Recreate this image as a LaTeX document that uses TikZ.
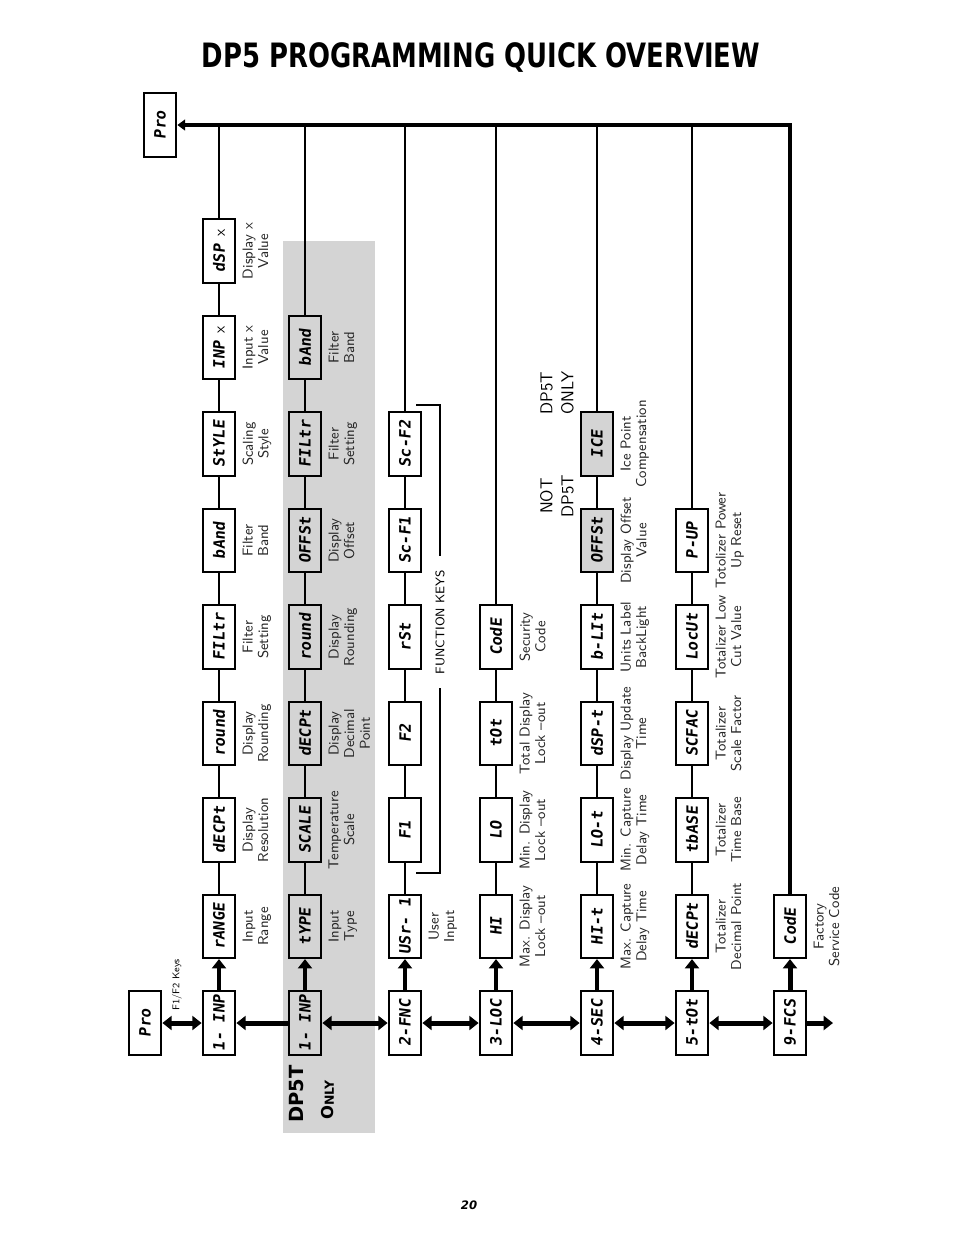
\documentclass[tikz,border=0pt]{standalone}
\usepackage{fontspec}
\usetikzlibrary{arrows.meta,positioning}
\newfontfamily\segfont{DejaVu Sans Mono}[FakeSlant=0.12]
\newfontfamily\headfont{DejaVu Sans}
\definecolor{panelgrey}{RGB}{212,212,212}
\newcommand{\seg}[1]{\rotatebox{90}{\segfont\bfseries\fontsize{10}{12}\selectfont #1}}
\tikzstyle{dispbox}=[draw,line width=1.3pt,fill=white,minimum width=21pt,minimum height=40.5pt,inner sep=0pt]
\tikzstyle{greybox}=[dispbox,fill=panelgrey]
\tikzstyle{lbl}=[rotate=90,anchor=north,align=center,inner sep=0pt,text=black!85,font=\sffamily\fontsize{9.2}{10}\selectfont]
\tikzstyle{link}=[draw,line width=1.6pt]
\tikzstyle{bigarrow}=[draw,line width=3.2pt,-{Triangle[length=6pt,width=9pt]}]
\tikzstyle{chain}=[draw,line width=3.2pt,{Triangle[length=6pt,width=9pt]}-{Triangle[length=6pt,width=9pt]}]
\tikzstyle{mainline}=[draw,line width=2.6pt,-{Triangle[length=5pt,width=7pt]}]
\tikzstyle{bracket}=[draw,line width=0.8pt]

\begin{document}
\begin{tikzpicture}[x=0.6415pt,y=-0.6415pt]

   \useasboundingbox[fill=white] (0,0) rectangle (954,1235);
   \def\dy{96.5}

% Title
   \node[font=\headfont\bfseries\fontsize{20.5}{24}\selectfont] (title) at (481,57) {\scalebox{0.81}[1.05]{DP5 PROGRAMMING QUICK OVERVIEW}};
   \node[font=\headfont\bfseries\itshape\fontsize{7.5}{9}\selectfont] (pagenum) at (469,1205) {20};

% DP5T panel
   \fill[panelgrey] (283,241) rectangle (375,1133);
   \node[rotate=90,anchor=west,inner sep=0pt,font=\headfont\bfseries\fontsize{12.5}{14}\selectfont] (dpfive) at (297,1123) {DP5T};
   \node[rotate=90,anchor=west,inner sep=0pt,font=\headfont\bfseries\fontsize{10.5}{12}\selectfont] (only) at (328,1120) {O{\fontsize{8}{10}\selectfont NLY}};

% Pro boxes
   \node[dispbox] (pro) at (145,1023) {\seg{Pro}};
   \node[dispbox] (protop) at (160,125) {\seg{Pro}};
   \node[rotate=90,font=\sffamily\fontsize{6.3}{7}\selectfont] (fkeylbl) at (177,985) {F1/F2 Keys};

%column 1
   \foreach \name/\txt/\k in {a0/{1- INP}/0, a1/{rANGE}/1, a2/{dECPt}/2, a3/{round}/3, a4/{FILtr}/4, a5/{bAnd}/5, a6/{StYLE}/6, a7/{INP\enspace{\sffamily\mdseries x}}/7, a8/{dSP\enspace{\sffamily\mdseries x}}/8}
      \node[dispbox] (\name) at (219,{1023-\dy*\k}) {\seg{\txt}};

%column 2 (DP5T)
   \foreach \name/\txt/\k in {b0/{1- INP}/0, b1/{tYPE}/1, b2/{SCALE}/2, b3/{dECPt}/3, b4/{round}/4, b5/{OFFSt}/5, b6/{FILtr}/6, b7/{bAnd}/7}
      \node[greybox] (\name) at (305,{1023-\dy*\k}) {\seg{\txt}};

%column 3
   \foreach \name/\txt/\k in {c0/{2-FNC}/0, c1/{USr- 1}/1, c2/{F1}/2, c3/{F2}/3, c4/{rSt}/4, c5/{Sc-F1}/5, c6/{Sc-F2}/6}
      \node[dispbox] (\name) at (405,{1023-\dy*\k}) {\seg{\txt}};

%column 4
   \foreach \name/\txt/\k in {d0/{3-LOC}/0, d1/{HI}/1, d2/{LO}/2, d3/{tOt}/3, d4/{CodE}/4}
      \node[dispbox] (\name) at (496,{1023-\dy*\k}) {\seg{\txt}};

%column 5
   \foreach \name/\txt/\k in {e0/{4-SEC}/0, e1/{HI-t}/1, e2/{LO-t}/2, e3/{dSP-t}/3, e4/{b-LIt}/4}
      \node[dispbox] (\name) at (597,{1023-\dy*\k}) {\seg{\txt}};
   \node[greybox] (e5) at (597,{1023-\dy*5}) {\seg{OFFSt}};
   \node[greybox] (e6) at (597,{1023-\dy*6}) {\seg{ICE}};

%column 6
   \foreach \name/\txt/\k in {f0/{5-tOt}/0, f1/{dECPt}/1, f2/{tbASE}/2, f3/{SCFAC}/3, f4/{LocUt}/4, f5/{P-UP}/5}
      \node[dispbox] (\name) at (692,{1023-\dy*\k}) {\seg{\txt}};

%column 7
   \node[dispbox] (g0) at (790,1023) {\seg{9-FCS}};
   \node[dispbox] (g1) at (790,{1023-\dy}) {\seg{CodE}};

% Labels
   \foreach \name/\txt in {a1/{Input\\Range}, a2/{Display\\Resolution}, a3/{Display\\Rounding}, a4/{Filter\\Setting}, a5/{Filter\\Band}, a6/{Scaling\\Style}, a7/{Input x\\Value}, a8/{Display x\\Value},
      b1/{Input\\Type}, b2/{Temperature\\Scale}, b3/{Display\\Decimal\\Point}, b4/{Display\\Rounding}, b5/{Display\\Offset}, b6/{Filter\\Setting}, b7/{Filter\\Band},
      c1/{User\\Input},
      d1/{Max. Display\\Lock --out}, d2/{Min. Display\\Lock --out}, d3/{Total Display\\Lock --out}, d4/{Security\\Code},
      e1/{Max. Capture\\Delay Time}, e2/{Min. Capture\\Delay Time}, e3/{Display Update\\Time}, e4/{Units Label\\BackLight}, e5/{Display Offset\\Value}, e6/{Ice Point\\Compensation},
      f1/{Totalizer\\Decimal Point}, f2/{Totalizer\\Time Base}, f3/{Totalizer\\Scale Factor}, f4/{Totalizer Low\\Cut Value}, f5/{Totolizer Power\\Up Reset},
      g1/{Factory\\Service Code}}
      \node[lbl] (l\name) at ([xshift=3.8pt]\name.east) {\txt};

   \node[rotate=90,align=center,font=\sffamily\fontsize{11}{13.5}\selectfont] (notdp) at (557,496) {NOT\\DP5T};
   \node[rotate=90,align=center,font=\sffamily\fontsize{11}{13.5}\selectfont] (dponly) at (557,393) {DP5T\\ONLY};

% Function keys bracket
   \node[rotate=90,inner xsep=9pt,font=\sffamily\fontsize{8}{9}\selectfont] (fkeys) at (440,622) {FUNCTION KEYS};
   \draw[bracket] (416,405) -- (440,405) -- (fkeys.east);
   \draw[bracket] (fkeys.west) -- (440,873) -- (416,873);

% Connect boxes in each column
   \foreach \source/\dest in {a1/a2, a2/a3, a3/a4, a4/a5, a5/a6, a6/a7, a7/a8, b1/b2, b2/b3, b3/b4, b4/b5, b5/b6, b6/b7, c1/c2, c2/c3, c3/c4, c4/c5, c5/c6, d1/d2, d2/d3, d3/d4, e1/e2, e2/e3, e3/e4, e4/e5, e5/e6, f1/f2, f2/f3, f3/f4, f4/f5}
      \path[link] (\source) -- (\dest);
   \foreach \c in {a,b,c,d,e,f,g}
      \path[bigarrow] (\c0) -- (\c1);
   \foreach \n in {a8,b7,c6,d4,e6,f5}
      \path[link] (\n) -- (\n |- protop);
   \path[mainline] (g1) |- (protop);

% Bottom chain
   \coordinate (exit) at (833,1023);
   \path[chain] (pro) -- (a0);
   \path[bigarrow] (b0) -- (a0);
   \foreach \source/\dest in {b0/c0, c0/d0, d0/e0, e0/f0, f0/g0}
      \path[chain] (\source) -- (\dest);
   \path[bigarrow] (g0) -- (exit);

\end{tikzpicture}
\end{document}
